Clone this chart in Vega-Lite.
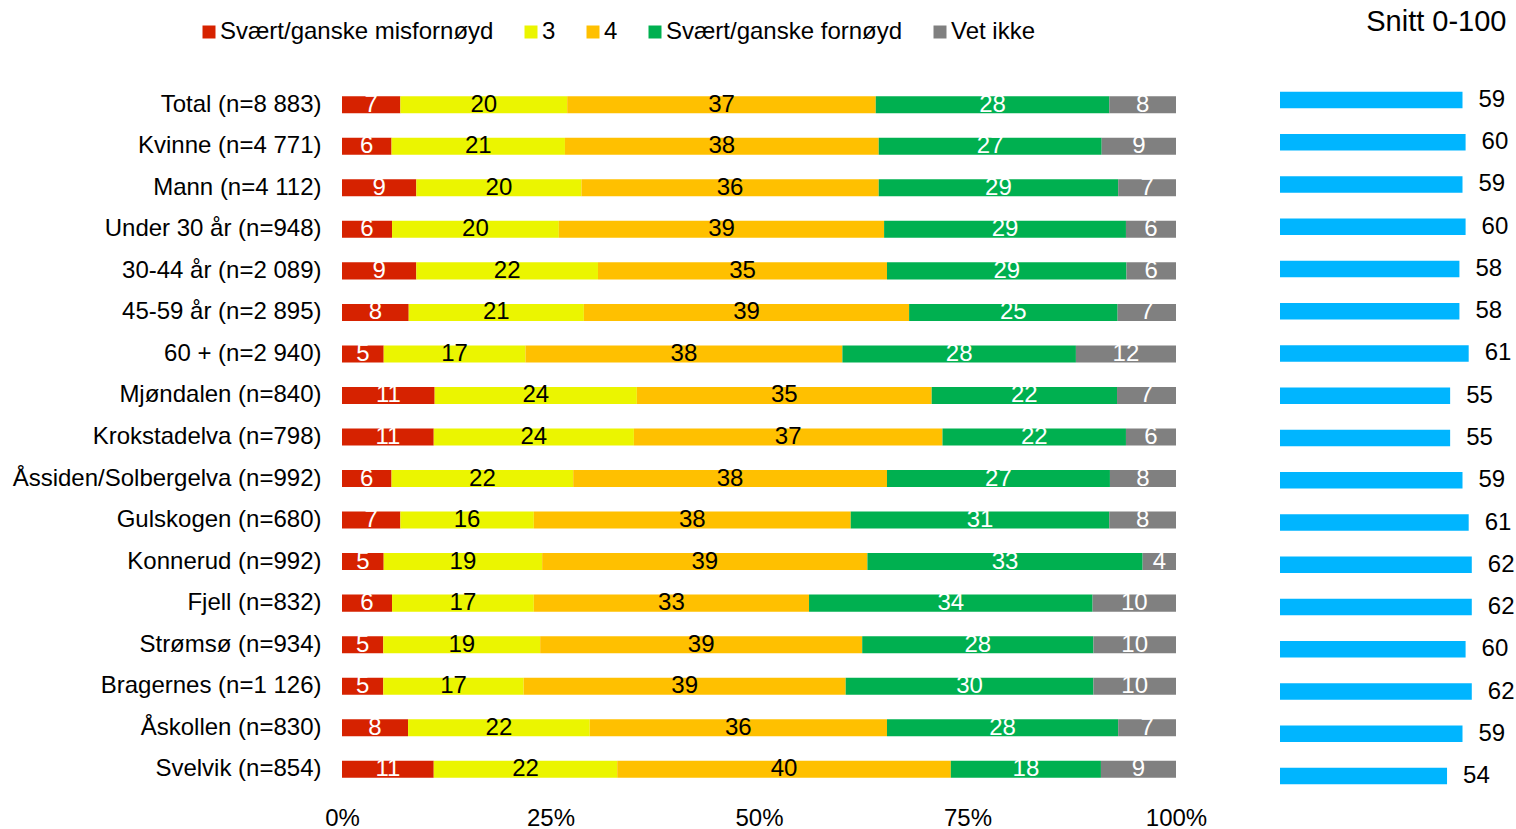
{
  "$schema": "https://vega.github.io/schema/vega-lite/v6.json",
  "padding": {"left": 12, "top": 8, "right": 0, "bottom": 0},
  "background": "white",
  "config": {"font": "Liberation Sans", "view": {"stroke": null}},
  "spacing": 104,
  "bounds": "flush",
  "datasets": {
    "shares": [
      {"g": "Total (n=8 883)", "c": "Svært/ganske misfornøyd", "k": 1, "v": 7},
      {"g": "Total (n=8 883)", "c": "3", "k": 2, "v": 20},
      {"g": "Total (n=8 883)", "c": "4", "k": 3, "v": 37},
      {"g": "Total (n=8 883)", "c": "Svært/ganske fornøyd", "k": 4, "v": 28},
      {"g": "Total (n=8 883)", "c": "Vet ikke", "k": 5, "v": 8},
      {"g": "Kvinne (n=4 771)", "c": "Svært/ganske misfornøyd", "k": 1, "v": 6},
      {"g": "Kvinne (n=4 771)", "c": "3", "k": 2, "v": 21},
      {"g": "Kvinne (n=4 771)", "c": "4", "k": 3, "v": 38},
      {"g": "Kvinne (n=4 771)", "c": "Svært/ganske fornøyd", "k": 4, "v": 27},
      {"g": "Kvinne (n=4 771)", "c": "Vet ikke", "k": 5, "v": 9},
      {"g": "Mann (n=4 112)", "c": "Svært/ganske misfornøyd", "k": 1, "v": 9},
      {"g": "Mann (n=4 112)", "c": "3", "k": 2, "v": 20},
      {"g": "Mann (n=4 112)", "c": "4", "k": 3, "v": 36},
      {"g": "Mann (n=4 112)", "c": "Svært/ganske fornøyd", "k": 4, "v": 29},
      {"g": "Mann (n=4 112)", "c": "Vet ikke", "k": 5, "v": 7},
      {"g": "Under 30 år (n=948)", "c": "Svært/ganske misfornøyd", "k": 1, "v": 6},
      {"g": "Under 30 år (n=948)", "c": "3", "k": 2, "v": 20},
      {"g": "Under 30 år (n=948)", "c": "4", "k": 3, "v": 39},
      {"g": "Under 30 år (n=948)", "c": "Svært/ganske fornøyd", "k": 4, "v": 29},
      {"g": "Under 30 år (n=948)", "c": "Vet ikke", "k": 5, "v": 6},
      {"g": "30-44 år (n=2 089)", "c": "Svært/ganske misfornøyd", "k": 1, "v": 9},
      {"g": "30-44 år (n=2 089)", "c": "3", "k": 2, "v": 22},
      {"g": "30-44 år (n=2 089)", "c": "4", "k": 3, "v": 35},
      {"g": "30-44 år (n=2 089)", "c": "Svært/ganske fornøyd", "k": 4, "v": 29},
      {"g": "30-44 år (n=2 089)", "c": "Vet ikke", "k": 5, "v": 6},
      {"g": "45-59 år (n=2 895)", "c": "Svært/ganske misfornøyd", "k": 1, "v": 8},
      {"g": "45-59 år (n=2 895)", "c": "3", "k": 2, "v": 21},
      {"g": "45-59 år (n=2 895)", "c": "4", "k": 3, "v": 39},
      {"g": "45-59 år (n=2 895)", "c": "Svært/ganske fornøyd", "k": 4, "v": 25},
      {"g": "45-59 år (n=2 895)", "c": "Vet ikke", "k": 5, "v": 7},
      {"g": "60 + (n=2 940)", "c": "Svært/ganske misfornøyd", "k": 1, "v": 5},
      {"g": "60 + (n=2 940)", "c": "3", "k": 2, "v": 17},
      {"g": "60 + (n=2 940)", "c": "4", "k": 3, "v": 38},
      {"g": "60 + (n=2 940)", "c": "Svært/ganske fornøyd", "k": 4, "v": 28},
      {"g": "60 + (n=2 940)", "c": "Vet ikke", "k": 5, "v": 12},
      {"g": "Mjøndalen (n=840)", "c": "Svært/ganske misfornøyd", "k": 1, "v": 11},
      {"g": "Mjøndalen (n=840)", "c": "3", "k": 2, "v": 24},
      {"g": "Mjøndalen (n=840)", "c": "4", "k": 3, "v": 35},
      {"g": "Mjøndalen (n=840)", "c": "Svært/ganske fornøyd", "k": 4, "v": 22},
      {"g": "Mjøndalen (n=840)", "c": "Vet ikke", "k": 5, "v": 7},
      {"g": "Krokstadelva (n=798)", "c": "Svært/ganske misfornøyd", "k": 1, "v": 11},
      {"g": "Krokstadelva (n=798)", "c": "3", "k": 2, "v": 24},
      {"g": "Krokstadelva (n=798)", "c": "4", "k": 3, "v": 37},
      {"g": "Krokstadelva (n=798)", "c": "Svært/ganske fornøyd", "k": 4, "v": 22},
      {"g": "Krokstadelva (n=798)", "c": "Vet ikke", "k": 5, "v": 6},
      {"g": "Åssiden/Solbergelva (n=992)", "c": "Svært/ganske misfornøyd", "k": 1, "v": 6},
      {"g": "Åssiden/Solbergelva (n=992)", "c": "3", "k": 2, "v": 22},
      {"g": "Åssiden/Solbergelva (n=992)", "c": "4", "k": 3, "v": 38},
      {"g": "Åssiden/Solbergelva (n=992)", "c": "Svært/ganske fornøyd", "k": 4, "v": 27},
      {"g": "Åssiden/Solbergelva (n=992)", "c": "Vet ikke", "k": 5, "v": 8},
      {"g": "Gulskogen (n=680)", "c": "Svært/ganske misfornøyd", "k": 1, "v": 7},
      {"g": "Gulskogen (n=680)", "c": "3", "k": 2, "v": 16},
      {"g": "Gulskogen (n=680)", "c": "4", "k": 3, "v": 38},
      {"g": "Gulskogen (n=680)", "c": "Svært/ganske fornøyd", "k": 4, "v": 31},
      {"g": "Gulskogen (n=680)", "c": "Vet ikke", "k": 5, "v": 8},
      {"g": "Konnerud (n=992)", "c": "Svært/ganske misfornøyd", "k": 1, "v": 5},
      {"g": "Konnerud (n=992)", "c": "3", "k": 2, "v": 19},
      {"g": "Konnerud (n=992)", "c": "4", "k": 3, "v": 39},
      {"g": "Konnerud (n=992)", "c": "Svært/ganske fornøyd", "k": 4, "v": 33},
      {"g": "Konnerud (n=992)", "c": "Vet ikke", "k": 5, "v": 4},
      {"g": "Fjell (n=832)", "c": "Svært/ganske misfornøyd", "k": 1, "v": 6},
      {"g": "Fjell (n=832)", "c": "3", "k": 2, "v": 17},
      {"g": "Fjell (n=832)", "c": "4", "k": 3, "v": 33},
      {"g": "Fjell (n=832)", "c": "Svært/ganske fornøyd", "k": 4, "v": 34},
      {"g": "Fjell (n=832)", "c": "Vet ikke", "k": 5, "v": 10},
      {"g": "Strømsø (n=934)", "c": "Svært/ganske misfornøyd", "k": 1, "v": 5},
      {"g": "Strømsø (n=934)", "c": "3", "k": 2, "v": 19},
      {"g": "Strømsø (n=934)", "c": "4", "k": 3, "v": 39},
      {"g": "Strømsø (n=934)", "c": "Svært/ganske fornøyd", "k": 4, "v": 28},
      {"g": "Strømsø (n=934)", "c": "Vet ikke", "k": 5, "v": 10},
      {"g": "Bragernes (n=1 126)", "c": "Svært/ganske misfornøyd", "k": 1, "v": 5},
      {"g": "Bragernes (n=1 126)", "c": "3", "k": 2, "v": 17},
      {"g": "Bragernes (n=1 126)", "c": "4", "k": 3, "v": 39},
      {"g": "Bragernes (n=1 126)", "c": "Svært/ganske fornøyd", "k": 4, "v": 30},
      {"g": "Bragernes (n=1 126)", "c": "Vet ikke", "k": 5, "v": 10},
      {"g": "Åskollen (n=830)", "c": "Svært/ganske misfornøyd", "k": 1, "v": 8},
      {"g": "Åskollen (n=830)", "c": "3", "k": 2, "v": 22},
      {"g": "Åskollen (n=830)", "c": "4", "k": 3, "v": 36},
      {"g": "Åskollen (n=830)", "c": "Svært/ganske fornøyd", "k": 4, "v": 28},
      {"g": "Åskollen (n=830)", "c": "Vet ikke", "k": 5, "v": 7},
      {"g": "Svelvik (n=854)", "c": "Svært/ganske misfornøyd", "k": 1, "v": 11},
      {"g": "Svelvik (n=854)", "c": "3", "k": 2, "v": 22},
      {"g": "Svelvik (n=854)", "c": "4", "k": 3, "v": 40},
      {"g": "Svelvik (n=854)", "c": "Svært/ganske fornøyd", "k": 4, "v": 18},
      {"g": "Svelvik (n=854)", "c": "Vet ikke", "k": 5, "v": 9}
    ],
    "snitt": [
      {"g": "Total (n=8 883)", "s": 59},
      {"g": "Kvinne (n=4 771)", "s": 60},
      {"g": "Mann (n=4 112)", "s": 59},
      {"g": "Under 30 år (n=948)", "s": 60},
      {"g": "30-44 år (n=2 089)", "s": 58},
      {"g": "45-59 år (n=2 895)", "s": 58},
      {"g": "60 + (n=2 940)", "s": 61},
      {"g": "Mjøndalen (n=840)", "s": 55},
      {"g": "Krokstadelva (n=798)", "s": 55},
      {"g": "Åssiden/Solbergelva (n=992)", "s": 59},
      {"g": "Gulskogen (n=680)", "s": 61},
      {"g": "Konnerud (n=992)", "s": 62},
      {"g": "Fjell (n=832)", "s": 62},
      {"g": "Strømsø (n=934)", "s": 60},
      {"g": "Bragernes (n=1 126)", "s": 62},
      {"g": "Åskollen (n=830)", "s": 59},
      {"g": "Svelvik (n=854)", "s": 54}
    ]
  },
  "hconcat": [
    {
      "width": 834,
      "height": 706,
      "data": {"name": "shares"},
      "encoding": {
        "y": {
          "field": "g", "type": "nominal", "sort": null,
          "scale": {"paddingInner": 0.59, "paddingOuter": 0.295},
          "axis": {"title": null, "labelFontSize": 24, "labelPadding": 21, "ticks": false, "tickSize": 0, "domain": false, "labelLimit": 500, "labelColor": "black"}
        },
        "x": {
          "field": "v", "type": "quantitative", "stack": "normalize",
          "axis": {"title": null, "format": ".0%", "values": [0, 0.25, 0.5, 0.75, 1], "grid": false, "domain": false, "ticks": false, "tickSize": 0, "labelFontSize": 24, "labelPadding": 16, "labelFlush": false, "labelColor": "black"}
        },
        "order": {"field": "k", "type": "quantitative"}
      },
      "layer": [
        {
          "mark": {"type": "bar"},
          "encoding": {
            "color": {
              "field": "c", "type": "nominal",
              "scale": {
                "domain": ["Svært/ganske misfornøyd", "3", "4", "Svært/ganske fornøyd", "Vet ikke"],
                "range": ["#D62200", "#EBF500", "#FFC000", "#00B050", "#808080"]
              },
              "legend": {
                "title": null, "orient": "none", "direction": "horizontal",
                "legendX": -145, "legendY": -64,
                "labelFontSize": 24, "labelColor": "black", "labelLimit": 500,
                "symbolType": "square", "symbolSize": 169, "symbolStrokeWidth": 0, "symbolOpacity": 1,
                "labelOffset": -1, "columnPadding": 25
              }
            }
          }
        },
        {
          "mark": {"type": "text", "fontSize": 24, "baseline": "middle", "align": "center"},
          "encoding": {
            "x": {"field": "v", "type": "quantitative", "stack": "normalize", "bandPosition": 0.5},
            "detail": {"field": "c"},
            "text": {"field": "v", "type": "quantitative"},
            "color": {"condition": {"test": "datum.k == 2 || datum.k == 3", "value": "black"}, "value": "white"}
          }
        }
      ]
    },
    {
      "width": 232,
      "height": 708,
      "data": {"name": "snitt"},
      "title": {"text": "Snitt 0-100", "anchor": "end", "fontSize": 29, "fontWeight": "normal", "offset": 47, "dx": -8, "color": "black"},
      "encoding": {
        "y": {"field": "g", "type": "nominal", "sort": null, "axis": null, "scale": {"paddingInner": 0.607, "paddingOuter": 0.182}},
        "x": {"field": "s", "type": "quantitative", "axis": null, "scale": {"domain": [0, 75]}}
      },
      "layer": [
        {"mark": {"type": "bar", "color": "#00B5FF"}},
        {
          "mark": {"type": "text", "align": "left", "dx": 16, "fontSize": 24, "baseline": "middle", "color": "black"},
          "encoding": {"text": {"field": "s", "type": "quantitative"}}
        }
      ]
    }
  ]
}
